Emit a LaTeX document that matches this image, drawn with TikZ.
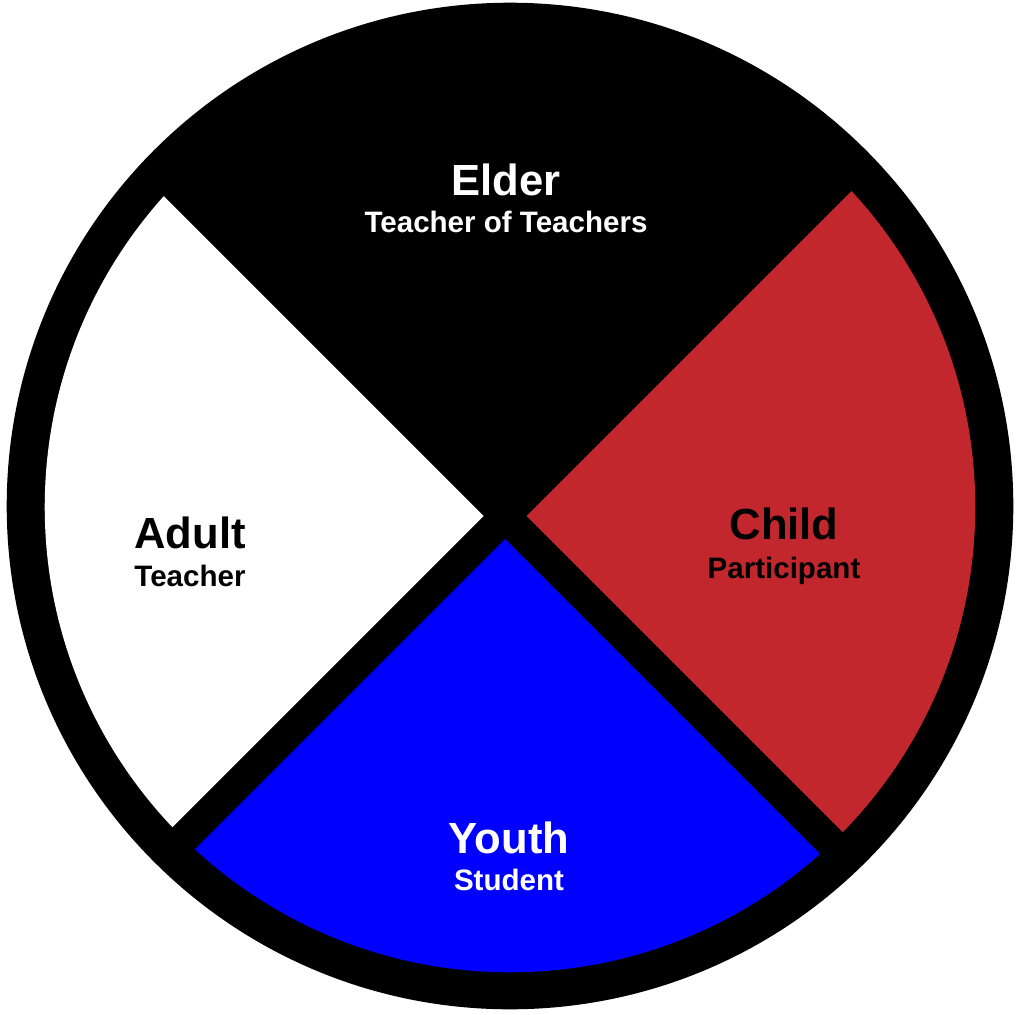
\documentclass[tikz,border=0pt]{standalone}
\usepackage{fontspec}
\setmainfont{Liberation Sans}
\usepackage{tikz}
\usetikzlibrary{positioning}
\definecolor{hjulrod}{RGB}{193,39,45}
\definecolor{hjulbla}{RGB}{0,0,255}
\tikzset{
    %Define style for the big names
    navn/.style={
           font=\fontsize{12.4}{14}\selectfont\bfseries,
           inner sep=0pt,
           anchor=base},
    %Define style for the roles under the names
    rolle/.style={
           font=\fontsize{8.4}{10}\selectfont\bfseries,
           inner sep=0pt},
    % Define style for the quarters
    kvart/.style={
           draw=none}
}

\begin{document}
\begin{tikzpicture}[x=0.01cm,y=0.01cm]
\useasboundingbox (0,0) rectangle (1019,1014);
\fill[white] (0,0) rectangle (1019,1014);
\fill[black] (510,508) circle [radius=5.03cm];
\coordinate (nav) at (505,498);
\begin{scope}
  \clip (510,507) circle [radius=4.65cm];
  % west, south, east (north stays black)
  \fill[kvart, white] ([xshift=-21.5*0.01cm]nav) -- ++(-600,600) -- ++(0,-1200) -- cycle;
  \fill[kvart, hjulbla] ([yshift=-23*0.01cm]nav) -- ++(-600,-600) -- ++(1200,0) -- cycle;
  \fill[kvart, hjulrod] ([xshift=21.5*0.01cm]nav) -- ++(600,600) -- ++(0,-1200) -- cycle;
\end{scope}
\node[navn, text=white](elder) at (506,819){Elder};
\node[rolle, text=white, below=3.7mm of elder.base, anchor=base](elderrolle){Teacher of Teachers};
\node[navn](adult) at (190,466){Adult};
\node[rolle, below=3.8mm of adult.base, anchor=base](adultrolle){Teacher};
\node[navn](child) at (784,475){Child};
\node[rolle, below=3.9mm of child.base, anchor=base](childrolle){Participant};
\node[navn, text=white](youth) at (509,161){Youth};
\node[rolle, text=white, below=3.7mm of youth.base, anchor=base](youthrolle){Student};
\end{tikzpicture}
\end{document}
